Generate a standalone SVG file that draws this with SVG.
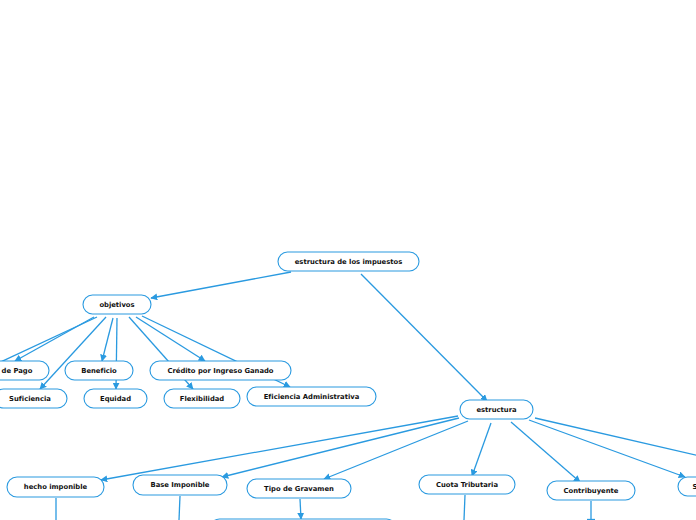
<svg xmlns="http://www.w3.org/2000/svg" width="696" height="520" viewBox="0 0 696 520">
<defs>
<marker id="ar" viewBox="0 0 10 10" refX="9" refY="5" markerWidth="7" markerHeight="7" markerUnits="userSpaceOnUse" orient="auto">
<path d="M0,0 L10,5 L0,10 z" fill="#2a9ae0"/>
</marker>
<style>
.n rect{fill:#fff;stroke:#2a9ae0;stroke-width:1.1}
.n text{font-family:"DejaVu Sans",Verdana,sans-serif;font-weight:bold;font-size:6.8px;fill:#111;text-anchor:middle;dominant-baseline:central;font-variant-ligatures:none}
.c line{stroke:#2a9ae0;stroke-width:1.3}
.c .a{marker-end:url(#ar)}
</style>
</defs>
<rect width="696" height="520" fill="#fff"/>
<g class="c">
<line class="a" x1="291" y1="272" x2="151" y2="298"/>
<line class="a" x1="361" y1="274" x2="487" y2="401"/>
<line class="a" x1="94" y1="317" x2="15" y2="361"/>
<line x1="97" y1="317" x2="-10" y2="367"/>
<line class="a" x1="106" y1="317" x2="40" y2="389"/>
<line class="a" x1="113" y1="318" x2="102" y2="361"/>
<line class="a" x1="117" y1="318" x2="116" y2="389"/>
<line class="a" x1="129" y1="317" x2="193" y2="389"/>
<line class="a" x1="136" y1="317" x2="205" y2="361"/>
<line class="a" x1="142" y1="316" x2="290" y2="387"/>
<line class="a" x1="458" y1="416" x2="101" y2="480"/>
<line class="a" x1="459" y1="418" x2="222" y2="477"/>
<line class="a" x1="468" y1="421" x2="324" y2="479"/>
<line class="a" x1="491" y1="423" x2="472" y2="476"/>
<line class="a" x1="511" y1="422" x2="580" y2="482"/>
<line class="a" x1="529" y1="420" x2="685" y2="477"/>
<line x1="535" y1="418" x2="700" y2="456"/>
<line x1="56" y1="498" x2="56" y2="520"/>
<line x1="180" y1="496" x2="179" y2="520"/>
<line class="a" x1="300" y1="499" x2="301" y2="519"/>
<line x1="465" y1="495" x2="464" y2="520"/>
<line x1="591" y1="501" x2="591" y2="520"/>
<line x1="587" y1="519.5" x2="595" y2="519.5"/>
</g>
<g id="root" class="n"><rect x="278" y="252" width="141" height="19" rx="9.5"/><text x="348.5" y="261.5">estructura de los impuestos</text></g>
<g id="objetivos" class="n"><rect x="83" y="295" width="68" height="19" rx="9.5"/><text x="117" y="304.5">objetivos</text></g>
<g id="capacidad" class="n"><rect x="-40" y="361" width="89" height="19" rx="9.5"/><text x="17" y="370.5">de Pago</text></g>
<g id="beneficio" class="n"><rect x="65" y="361" width="68" height="19" rx="9.5"/><text x="99" y="370.5">Beneficio</text></g>
<g id="credito" class="n"><rect x="150" y="361" width="141" height="19" rx="9.5"/><text x="220.5" y="370.5">Crédito por Ingreso Ganado</text></g>
<g id="suficiencia" class="n"><rect x="-6" y="389" width="73" height="19" rx="9.5"/><text x="30" y="398.5">Suficiencia</text></g>
<g id="equidad" class="n"><rect x="84" y="389" width="63" height="19" rx="9.5"/><text x="115.5" y="398.5">Equidad</text></g>
<g id="flexibilidad" class="n"><rect x="164" y="389" width="76" height="19" rx="9.5"/><text x="202" y="398.5">Flexibilidad</text></g>
<g id="eficiencia" class="n"><rect x="247" y="387" width="129" height="19" rx="9.5"/><text x="311.5" y="396.5">Eficiencia Administrativa</text></g>
<g id="estructura" class="n"><rect x="460" y="400" width="73" height="19" rx="9.5"/><text x="496.5" y="409.5">estructura</text></g>
<g id="hecho" class="n"><rect x="7" y="477" width="97" height="20" rx="10"/><text x="55.5" y="487">hecho imponible</text></g>
<g id="base" class="n"><rect x="133" y="475" width="94" height="20" rx="10"/><text x="180" y="485">Base Imponible</text></g>
<g id="tipo" class="n"><rect x="247" y="479" width="104" height="19" rx="9.5"/><text x="299" y="488.5">Tipo de Gravamen</text></g>
<g id="cuota" class="n"><rect x="419" y="475" width="96" height="19" rx="9.5"/><text x="467" y="484.5">Cuota Tributaria</text></g>
<g id="contribuyente" class="n"><rect x="547" y="481" width="88" height="19" rx="9.5"/><text x="591" y="490.5">Contribuyente</text></g>
<g id="sujeto" class="n"><rect x="678" y="477" width="40" height="19" rx="9.5"/><text x="695" y="486.5">S</text></g>
<g id="tipo-child" class="n"><rect x="210" y="519" width="186" height="19" rx="9.5"/></g>
</svg>
